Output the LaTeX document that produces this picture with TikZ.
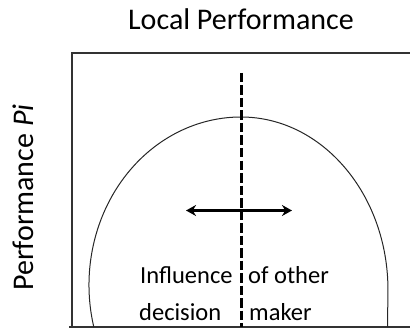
\documentclass[tikz,border=0pt]{standalone}
\usepackage{fontspec}
\setmainfont{Carlito}
\usetikzlibrary{arrows.meta}
\tikzset{
  frameline/.style={line width=1.6pt, black!80},
  curveline/.style={line width=1pt, black!85},
  divider/.style={line width=2.6pt, dash pattern=on 9.5pt off 3pt},
  dblarrow/.style={line width=2.6pt, {Stealth[length=10pt,width=11pt]}-{Stealth[length=10pt,width=11pt]}},
  lbl/.style={font=\fontsize{24.5}{28}\selectfont, inner sep=0pt, anchor=base west},
  ttl/.style={font=\fontsize{30}{34}\selectfont, inner sep=0pt, anchor=base}
}
\begin{document}
\begin{tikzpicture}[x=1pt,y=1pt]
\useasboundingbox (0,0) rectangle (410,330);
% frame
\coordinate (tl) at (72,277);
\coordinate (tr) at (410,277);
\coordinate (bl) at (69,3);
\coordinate (br) at (410,3);
\coordinate (lb) at (72,3);
\draw[frameline] (tr) -- (tl) -- (lb);
\draw[frameline] (bl) -- (br);
% curve
\coordinate (cl) at (93.8,3);
\coordinate (cr) at (387.5,3);
\draw[curveline] (cl) arc[start angle=194.48, end angle=90, x radius=152, y radius=168]
  arc[start angle=90, end angle=0, x radius=147, y radius=173] -- (cr);
% divider
\coordinate (dtop) at (241.5,257);
\coordinate (dbot) at (241.5,3);
\draw[divider] (dtop) -- (dbot);
% arrow
\coordinate (al) at (186,119.5);
\coordinate (ar) at (292,119.5);
\draw[dblarrow] (al) -- (ar);
% texts
\node[ttl] (title) at (241,300.5) {Local Performance};
\node[ttl, rotate=90] (ylab) at (33,132.5) {Performance \textit{Pi}};
\node[lbl] (t1) at (140,47) {Influence};
\node[lbl] (t2) at (248,47) {of other};
\node[lbl] (t3) at (139,10) {decision};
\node[lbl] (t4) at (249,10) {maker};
\end{tikzpicture}
\end{document}
